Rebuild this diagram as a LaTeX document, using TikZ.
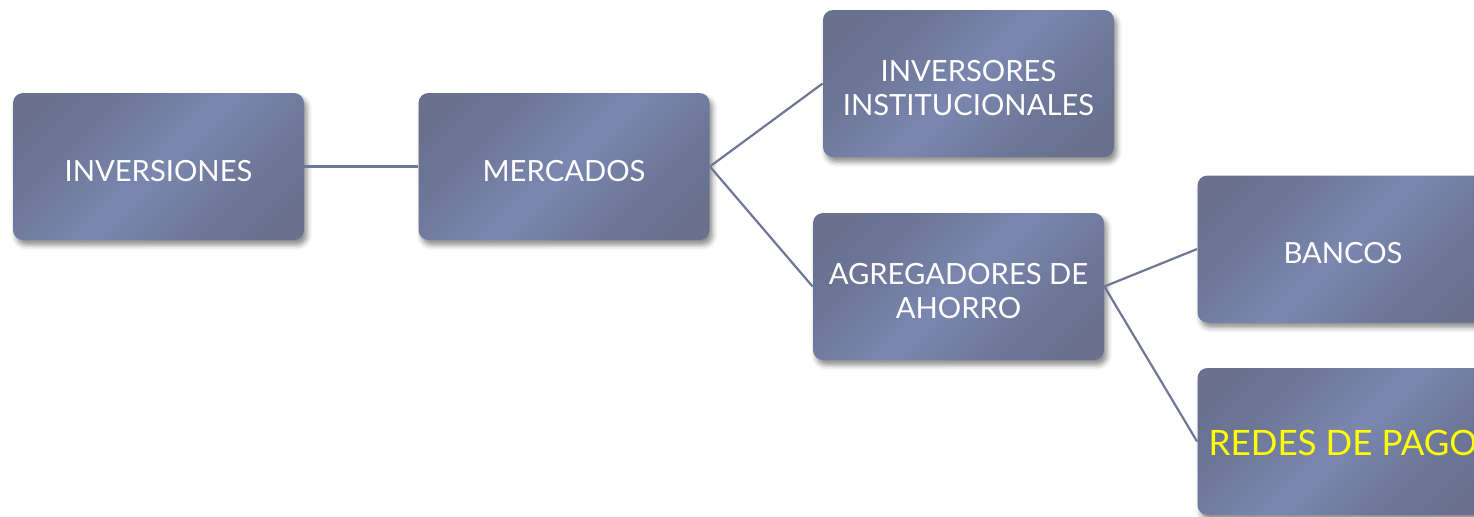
\documentclass[tikz,border=0pt]{standalone}
\usepackage{fontspec}
\setmainfont{Lato}
\usetikzlibrary{shadows.blur}
\definecolor{boxdark}{HTML}{69718F}
\definecolor{boxlight}{HTML}{7B87B0}
\definecolor{linkcol}{HTML}{6E7896}
\definecolor{yel}{HTML}{FFFF00}
\pgfdeclarehorizontalshading{boxshade}{100bp}{
  color(0bp)=(boxdark);
  color(22bp)=(boxdark);
  color(32bp)=(boxdark!80!boxlight);
  color(42bp)=(boxdark!35!boxlight);
  color(50bp)=(boxlight);
  color(58bp)=(boxdark!35!boxlight);
  color(68bp)=(boxdark!80!boxlight);
  color(78bp)=(boxdark);
  color(100bp)=(boxdark)}
\newcommand\lowtext[2][-4pt]{\raisebox{#1}[\height][\depth]{\begin{tabular}{@{}c@{}}#2\end{tabular}}}
\tikzset{
  box/.style={rectangle, rounded corners=5pt, minimum width=145.5pt, minimum height=73.5pt,
    shading=boxshade, shading angle=-45,
    blur shadow={shadow xshift=1.5pt, shadow yshift=-2.5pt, shadow blur radius=2.5pt, shadow opacity=45},
    text=white, font=\fontsize{14.6}{17}\selectfont, inner sep=0pt},
  link/.style={draw=linkcol, line width=1.1pt}
}
\begin{document}
\begin{tikzpicture}[x=0.5pt,y=-0.5pt]
\useasboundingbox (0,0) rectangle (1474,516);
\clip (0,0) rectangle (1474,516);
\node[box] (inv) at (158.5,166.5) {\lowtext{INVERSIONES}};
\node[box] (mer) at (564,166.5) {\lowtext{MERCADOS}};
\node[box] (ins) at (968.5,83.5) {\lowtext{INVERSORES\\INSTITUCIONALES}};
\node[box] (agr) at (958.5,286.5) {\lowtext{AGREGADORES DE\\AHORRO}};
\node[box] (ban) at (1343,249) {\lowtext{BANCOS}};
\node[box, font=\fontsize{17.5}{21}\selectfont, text=yel] (red) at (1343,441.5) {\lowtext[-2.8pt]{REDES DE PAGO}};
\draw[link] (inv.east) -- (mer.east -| mer.west);
\draw[link] (mer.east) -- (ins.west);
\draw[link] (mer.east) -- (agr.west);
\draw[link] (agr.east) -- (ban.west);
\draw[link] (agr.east) -- (red.west);
\end{tikzpicture}
\end{document}
